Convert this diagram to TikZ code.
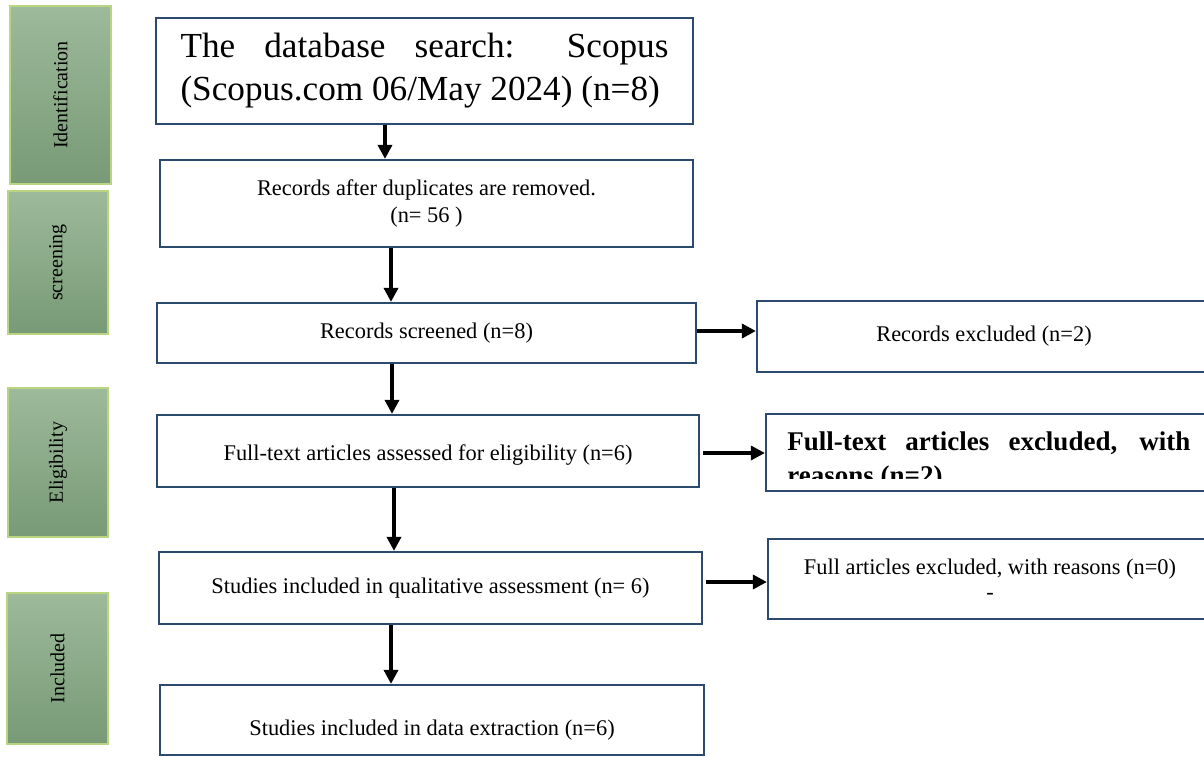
\documentclass[tikz,border=0pt]{standalone}
\usepackage{fontspec}
\setmainfont{Liberation Serif}
\usepackage{graphicx}
\usetikzlibrary{arrows.meta}

\definecolor{stagetop}{HTML}{9DBA9A}
\definecolor{stagebot}{HTML}{789A76}
\definecolor{stageedge}{HTML}{BAD582}
\definecolor{boxedge}{HTML}{2C4A6E}

\begin{document}
\begin{tikzpicture}[
    x=0.5pt, y=-0.5pt,
    every node/.style={font=\fontsize{11.2}{13.5}\selectfont},
    box/.style={draw=boxedge, line width=1.1pt, fill=white, inner sep=0pt, align=center},
    stage/.style={draw=stageedge, line width=0.8pt, top color=stagetop, bottom color=stagebot, inner sep=0pt, font=\fontsize{10}{12}\selectfont},
    arr/.style={line width=1.7pt, -{Triangle[length=7pt, width=7pt]}},
]
\useasboundingbox (0,0) rectangle (1204,756);

% stages on the left
\node[stage, minimum width=50.5pt, minimum height=89pt] (ident) at (60.5, 95) {\rotatebox{90}{Identification}};
\node[stage, minimum width=50pt, minimum height=71.5pt] (screen) at (58, 262.5) {\rotatebox{90}{screening}};
\node[stage, minimum width=50pt, minimum height=74.5pt] (elig) at (58, 462.5) {\rotatebox{90}{Eligibility}};
\node[stage, minimum width=50.5pt, minimum height=75.5pt] (incl) at (57.5, 668.5) {\rotatebox{90}{Included}};

% main column
\node[box, minimum width=268.5pt, minimum height=53pt, text width=244pt, align=justify, font=\fontsize{17.6}{21.5}\selectfont] (search) at (424.5, 71) {The database search: Scopus\linebreak (Scopus.com 06/May 2024) (n=8)};
\node[box, minimum width=266.5pt, minimum height=43.5pt] (dedup) at (426.5, 203.5) {Records after duplicates are removed.\\(n= 56 )};
\node[box, minimum width=269.5pt, minimum height=30pt] (screened) at (426.5, 333) {Records screened (n=8)};
\node[box, minimum width=271pt, minimum height=36pt] (fulltext) at (428, 451) {\raisebox{-2pt}[0.7em][0.2em]{Full-text articles assessed for eligibility (n=6)}};
\node[box, minimum width=271.5pt, minimum height=36pt] (qual) at (430.5, 588) {Studies included in qualitative assessment (n= 6)};
\node[box, minimum width=272pt, minimum height=35pt] (extract) at (432, 720) {\raisebox{-5pt}[0.7em][0.2em]{Studies included in data extraction (n=6)}};

% excluded column
\node[box, minimum width=227pt, minimum height=35.5pt] (recexcl) at (984, 336.5) {Records excluded (n=2)};
\node[box, minimum width=222.5pt, minimum height=38.5pt] (ftexcl) at (988.5, 452.5) {};
\begin{scope}
  \clip (766,414) rectangle (1204,478);
  \node[anchor=north west, inner sep=0pt, text width=201.5pt, align=justify, font=\bfseries\fontsize{13.5}{17}\selectfont] (ftexcltxt) at (787, 431) {Full-text articles excluded, with\linebreak reasons (n=2)};
\end{scope}
\node[box, minimum width=222pt, minimum height=40pt, font=\fontsize{11.2}{12.5}\selectfont] (fullexcl) at (990, 579) {Full articles excluded, with reasons (n=0)\\-};

\draw[arr] ([xshift=-19.75pt]search.south) -- ([xshift=-20.75pt]dedup.north);
\draw[arr] ([xshift=-17.75pt]dedup.south) -- ([xshift=-17.75pt]screened.north);
\draw[arr] ([xshift=-17.25pt]screened.south) -- ([xshift=-18pt]fulltext.north);
\draw[arr] ([xshift=-17pt]fulltext.south) -- ([xshift=-18.25pt]qual.north);
\draw[arr] ([xshift=-19.75pt]qual.south) -- ([xshift=-20.5pt]extract.north);

\draw[arr] ([yshift=1pt]screened.east) -- ([yshift=2.75pt]recexcl.west);
\draw[arr] ([xshift=1.5pt, yshift=-1pt]fulltext.east) -- ([yshift=-0.25pt]ftexcl.west);
\draw[arr] ([xshift=1.5pt, yshift=3pt]qual.east) -- ([yshift=-1.5pt]fullexcl.west);

\end{tikzpicture}
\end{document}
